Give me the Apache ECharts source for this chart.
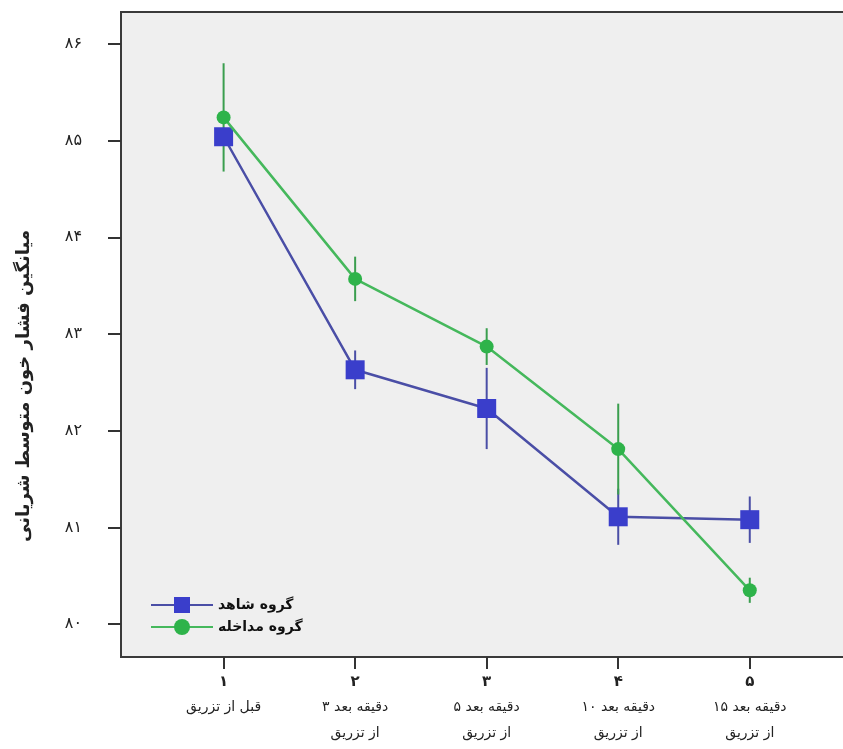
<!DOCTYPE html>
<html><head><meta charset="utf-8">
<script src="https://cdn.jsdelivr.net/npm/echarts@6/dist/echarts.min.js"></script>
<style>html,body{margin:0;padding:0;background:#fff}#c{width:843px;height:749px}</style>
</head><body><div id="c"></div>
<script>
// ---- data ----
const xPositions = [1, 2, 3, 4, 5];
const xTickNumbers = ['۱', '۲', '۳', '۴', '۵'];
const xTickTexts = ['قبل از تزریق', '۳ دقیقه بعد\nاز تزریق', '۵ دقیقه بعد\nاز تزریق', '۱۰ دقیقه بعد\nاز تزریق', '۱۵ دقیقه بعد\nاز تزریق'];
const yTickValues = [80, 81, 82, 83, 84, 85, 86];
const yTickLabels = ['۸۰', '۸۱', '۸۲', '۸۳', '۸۴', '۸۵', '۸۶'];
const yTitle = 'میانگین فشار خون متوسط شریانی';
const controlName = 'گروه شاهد';
const interventionName = 'گروه مداخله';
const controlMeans = [85.04, 82.63, 82.23, 81.11, 81.08];
const controlErr = [0.08, 0.20, 0.42, 0.29, 0.24];
const interventionMeans = [85.24, 83.57, 82.87, 81.81, 80.35];
const interventionErr = [0.56, 0.23, 0.19, 0.47, 0.13];

const FONT = '"DejaVu Sans", sans-serif';
const blueFill = '#3a3ecb', blueLine = '#4a4ea6';
const greenFill = '#2eb34a', greenLine = '#45b85c';

function errSeries(id, means, errs, color, z) {
  return {
    type: 'custom', name: id, silent: true, z: z,
    data: xPositions.map((x, i) => [x, means[i] - errs[i], means[i] + errs[i]]),
    encode: { x: 0, y: [1, 2] },
    renderItem: function (params, api) {
      const p1 = api.coord([api.value(0), api.value(1)]);
      const p2 = api.coord([api.value(0), api.value(2)]);
      return { type: 'line', shape: { x1: p1[0], y1: p1[1], x2: p2[0], y2: p2[1] },
        style: { stroke: color, lineWidth: 2 } };
    }
  };
}

const chart = echarts.init(document.getElementById('c'), null, { renderer: 'canvas' });
chart.setOption({
  animation: false,
  backgroundColor: '#ffffff',
  grid: { left: 121, top: 12, width: 734, height: 645, show: true, outerBoundsMode: 'none',
    containLabel: false,
    backgroundColor: '#efefef', borderColor: '#3a3a3a', borderWidth: 2 },
  xAxis: {
    type: 'value', min: 0.22, max: 5.8,
    splitLine: { show: false },
    axisLine: { show: false },
    axisTick: { show: true, customValues: xPositions, length: 12, lineStyle: { color: '#333', width: 2 } },
    axisLabel: {
      customValues: xPositions, margin: 13, color: '#222', fontFamily: FONT,
      formatter: function (v) {
        const i = xPositions.indexOf(Math.round(v));
        if (i < 0) return '';
        const lines = xTickTexts[i].split('\n').map(s => '{t|' + s + '}').join('\n');
        return '{n|' + xTickNumbers[i] + '}\n' + lines;
      },
      rich: {
        n: { fontSize: 15, fontWeight: 'bold', lineHeight: 24, fontFamily: FONT, color: '#222' },
        t: { fontSize: 14, lineHeight: 26, fontFamily: FONT, color: '#222' }
      }
    }
  },
  yAxis: {
    type: 'value', min: 79.66, max: 86.33,
    splitLine: { show: false },
    axisLine: { show: false },
    axisTick: { show: true, customValues: yTickValues, length: 13, lineStyle: { color: '#333', width: 2 } },
    axisLabel: {
      customValues: yTickValues, margin: 39, fontSize: 16, color: '#222', fontFamily: FONT,
      formatter: function (v) { const i = yTickValues.indexOf(Math.round(v)); return i < 0 ? '' : yTickLabels[i]; }
    }
  },
  legend: {
    data: [controlName, interventionName],
    orient: 'vertical', left: 145, top: 592,
    itemWidth: 62, itemHeight: 20, itemGap: 6,
    textStyle: { fontFamily: FONT, fontSize: 14, fontWeight: 'bold', color: '#111' }
  },
  graphic: [{
    type: 'text', x: 24, y: 386, rotation: Math.PI / 2,
    style: { text: yTitle, fontFamily: FONT, fontSize: 18, fontWeight: 'bold', fill: '#222',
      align: 'center', verticalAlign: 'middle' }
  }],
  series: [
    errSeries('errControl', controlMeans, controlErr, blueLine, 3),
    errSeries('errIntervention', interventionMeans, interventionErr, '#3a9e4e', 3),
    {
      type: 'line', name: controlName, z: 4,
      data: xPositions.map((x, i) => [x, controlMeans[i]]),
      symbol: 'rect', symbolSize: 19,
      itemStyle: { color: blueFill },
      lineStyle: { color: blueLine, width: 2.5 }
    },
    {
      type: 'line', name: interventionName, z: 5,
      data: xPositions.map((x, i) => [x, interventionMeans[i]]),
      symbol: 'circle', symbolSize: 14,
      itemStyle: { color: greenFill },
      lineStyle: { color: greenLine, width: 2.5 }
    }
  ]
});
</script>
</body></html>
